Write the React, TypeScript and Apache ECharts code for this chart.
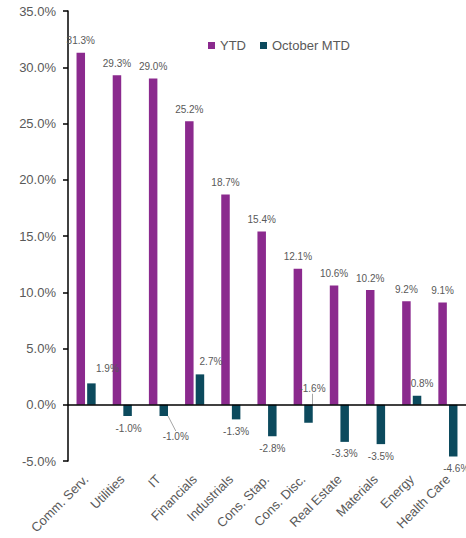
import React, { useEffect, useRef } from "react";
import * as echarts from "echarts";

const categories = [
  "Comm. Serv.",
  "Utilities",
  "IT",
  "Financials",
  "Industrials",
  "Cons. Stap.",
  "Cons. Disc.",
  "Real Estate",
  "Materials",
  "Energy",
  "Health Care",
];
const ytdValues = [31.3, 29.3, 29.0, 25.2, 18.7, 15.4, 12.1, 10.6, 10.2, 9.2, 9.1];
const mtdValues = [1.9, -1.0, -1.0, 2.7, -1.3, -2.8, -1.6, -3.3, -3.5, 0.8, -4.6];
const seriesNames = ["YTD", "October MTD"];

// label nudges (dx, dy) for the MTD labels, as placed in the reference
const mtdLabelNudges: [number, number][] = [
  [16, -3],
  [1, 0],
  [12, 8],
  [11, -1],
  [0, 0],
  [0, 0],
  [4, -46],
  [0, 0],
  [0, 0],
  [5, 0],
  [3, 0],
];
const leaderLineIdx = [2, 6];

const FONT = "'Liberation Sans', Arial, sans-serif";
const GREY = "#595959";
const PURPLE = "#8B2A8E";
const TEAL = "#0C4A5D";

export default function App() {
  const ref = useRef<HTMLDivElement>(null);
  useEffect(() => {
    if (!ref.current) return;
    const chart = echarts.init(ref.current, null, { renderer: "svg" });
    const pct = (v: number) => v.toFixed(1) + "%";
    chart.setOption({
      animation: false,
      textStyle: { fontFamily: FONT },
      legend: {
        left: 203,
        top: 34,
        icon: "rect",
        itemWidth: 7,
        itemHeight: 7,
        itemGap: 14,
        textStyle: { fontSize: 13, color: GREY, fontFamily: FONT },
        data: seriesNames,
      },
      grid: { left: 68, top: 11, width: 406.5, height: 450 },
      xAxis: {
        type: "category",
        data: categories,
        axisLine: { show: false },
        axisTick: { show: false },
        axisLabel: {
          rotate: 45,
          interval: 0,
          fontSize: 13,
          color: GREY,
          margin: 16,
          fontFamily: FONT,
        },
      },
      yAxis: {
        type: "value",
        min: -5,
        max: 35,
        interval: 5,
        axisLine: { show: true, lineStyle: { color: "#000", width: 1.5 } },
        axisTick: { show: true, length: 5, lineStyle: { color: "#000", width: 1.5 } },
        splitLine: { show: false },
        axisLabel: {
          formatter: (v: number) => pct(v),
          fontSize: 13,
          color: GREY,
          margin: 12,
          fontFamily: FONT,
        },
      },
      series: [
        {
          name: seriesNames[0],
          type: "bar",
          data: ytdValues,
          barWidth: 8.5,
          barGap: "25%",
          itemStyle: { color: PURPLE },
          label: {
            show: true,
            position: "top",
            distance: 7,
            fontSize: 10,
            color: GREY,
            fontFamily: FONT,
            formatter: (p: any) => pct(p.value),
          },
        },
        {
          name: seriesNames[1],
          type: "bar",
          barWidth: 8.5,
          barGap: "25%",
          itemStyle: { color: TEAL },
          data: mtdValues.map((v, i) => {
            const item: any = {
              value: v,
              label: { position: v < 0 ? "bottom" : "top" },
            };
            if (leaderLineIdx.includes(i)) {
              item.labelLine = {
                show: true,
                lineStyle: { color: "#a6a6a6", width: 1 },
              };
            }
            return item;
          }),
          label: {
            show: true,
            distance: 7,
            fontSize: 10,
            color: GREY,
            fontFamily: FONT,
            formatter: (p: any) => pct(p.value),
          },
          labelLayout: (params: any) => {
            const n = mtdLabelNudges[params.dataIndex] || [0, 0];
            return { dx: n[0], dy: n[1] };
          },
          markLine: {
            silent: true,
            symbol: ["none", "none"],
            label: { show: false },
            lineStyle: { color: "#000", width: 1.5, type: "solid" },
            data: [{ yAxis: 0 }],
          },
        },
      ],
    });
    return () => chart.dispose();
  }, []);
  return (
    <div
      ref={ref}
      style={{ position: "fixed", left: 0, top: 0, width: 466, height: 538, background: "#fff" }}
    />
  );
}
